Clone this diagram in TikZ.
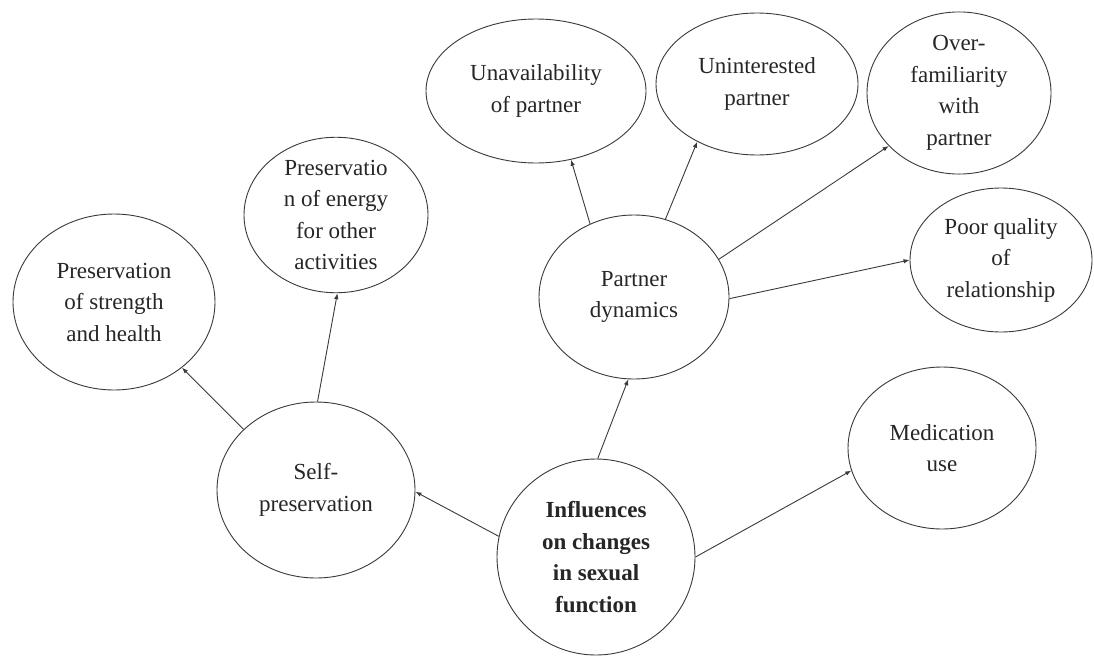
\documentclass[tikz,border=0pt]{standalone}
\usepackage{fontspec}
\setmainfont{Liberation Serif}
\usetikzlibrary{shapes.geometric,arrows.meta}
\definecolor{linec}{HTML}{3A3A3A}
\definecolor{textc}{HTML}{262626}
\begin{document}
\begin{tikzpicture}[x=1pt,y=-1pt,
  bub/.style={ellipse, draw=linec, line width=0.9pt, inner sep=0pt, align=center, text=textc,
    font=\rmfamily\fontsize{23}{31.5}\selectfont},
  arr/.style={draw=linec, line width=0.9pt, -{Latex[length=6pt,width=4.5pt]}}]
\useasboundingbox[fill=white] (0,0) rectangle (1094,656);

\node[bub, minimum width=202pt, minimum height=176pt] (str) at (114,302) {Preservation\\of strength\\and health};
\node[bub, minimum width=184pt, minimum height=146pt] (ene) at (336,215) {Preservatio\\n of energy\\for other\\activities};
\node[bub, minimum width=198pt, minimum height=176pt] (self) at (316,490) {Self-\\preservation};
\node[bub, minimum width=198pt, minimum height=196pt, font=\rmfamily\fontsize{23}{31.5}\selectfont\bfseries] (inf) at (596,557) {Influences\\on changes\\in sexual\\function};
\node[bub, minimum width=190pt, minimum height=164pt] (pd) at (634,297) {Partner\\dynamics};
\node[bub, minimum width=220pt, minimum height=144pt] (una) at (536,91) {Unavailability\\of partner};
\node[bub, minimum width=202pt, minimum height=142pt] (uni) at (757,84) {Uninterested\\partner};
\node[bub, minimum width=184pt, minimum height=142pt] (ovr) at (959,93) {Over-\\familiarity\\with\\partner};
\node[bub, minimum width=182pt, minimum height=144pt] (poor) at (1001,260) {Poor quality\\of\\relationship};
\node[bub, minimum width=188pt, minimum height=162pt] (med) at (942,448) {Medication\\use};

\draw[arr] (self.140.6) -- (str.-44.1);
\draw[arr] (self.89.3) -- (ene.271.5);
\draw[arr] (inf.168.6) -- (self.-1.1);
\draw[arr] (inf.89.4) -- (pd.266);
\draw[arr] (inf.0) -- (med.194.2);
\draw[arr] (pd.121) -- (una.-63.8);
\draw[arr] (pd.68.1) -- (uni.224);
\draw[arr] (pd.24.7) -- (ovr.217.1);
\draw[arr] (pd.-1.8) -- (poor.180);
\end{tikzpicture}
\end{document}
